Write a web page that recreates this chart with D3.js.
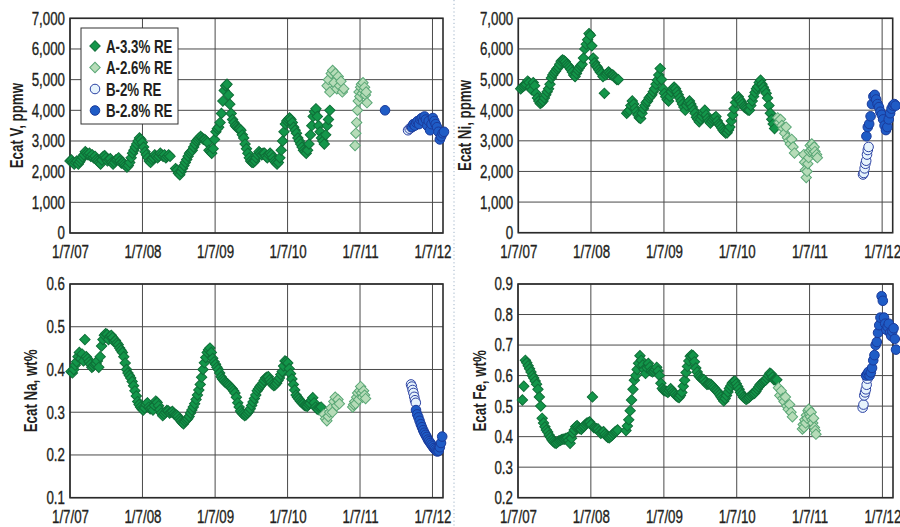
<!DOCTYPE html>
<html>
<head>
<meta charset="utf-8">
<script src="https://cdn.jsdelivr.net/npm/d3@7"></script>
<style>
  body { margin: 0; background: #fff; }
</style>
</head>
<body>
<svg id="chart" width="900" height="527"></svg>
<script>
// ---- data ----
// each series: list of [first sample date, days between samples, values]
const xStart = "2007-01-07";
const xEnd = "2012-02-29";
const xTickDates = ["2007-01-07", "2008-01-07", "2009-01-07", "2010-01-07", "2011-01-07", "2012-01-07"];

const ppmTicks = [0, 1000, 2000, 3000, 4000, 5000, 6000, 7000];
const naTicks = [0.1, 0.2, 0.3, 0.4, 0.5, 0.6];
const feTicks = [0.2, 0.3, 0.4, 0.5, 0.6, 0.7, 0.8, 0.9];

const seriesNames = ["A-3.3% RE", "A-2.6% RE", "B-2% RE", "B-2.8% RE"];

// Ecat V, ppmw
const vA33 = [["2007-01-07", 7, [
  2350, 2380, 2300, 2250, 2300, 2350, 2250, 2320, 2400, 2480,
  2550, 2650, 2600, 2550, 2600, 2500, 2550, 2450, 2500, 2400,
  2350, 2300, 2250, 2380, 2500, 2520, 2450, 2350, 2400, 2420,
  2300, 2250, 2300, 2380, 2400, 2450, 2350, 2280, 2300, 2250,
  2200, 2150, 2200, 2300, 2450, 2600, 2700, 2800, 2900, 3000,
  3100, 3050, 2950, 2800, 2650, 2550, 2450, 2350, 2300, 2400,
  2450, 2550, 2500, 2450, 2500, 2600, 2550, 2500, 2550, 2450,
  2500, 2550, 2500, null, null, null, 2100, 2050, 1950,
  1900, 2000, 2100, 2200, 2300, 2400, 2500, 2600, 2650, 2700,
  2800, 2900, 3000, 3050, 3100, 3150, 3100, 3050, 3050, 3000,
  2950, 2700, 2650, 2600, 2750, 3050, 3300, 3400, 3450, 3600,
  3900, 4300, 4650, 4800, 4850, 4500, 4200, 3900, 3700, 3600,
  3500, 3450, 3400, 3400, 3350, 3200, 3100, 2900, 2750, 2600,
  2450, 2350, 2300, 2300, 2350, 2450, 2550, 2650, 2600, 2550,
  2600, 2600, 2500, 2450, 2550, 2600, 2550, 2450, 2350, 2300,
  2250, 2300, 2450, 2700, 3000, 3300, 3550, 3650, 3700, 3750,
  3700, 3600, 3450, 3350, 3250, 3100, 3000, 2900, 2800, 2700,
  2650, 2600, 2700, 2900, 3200, 3500, 3800, 3950, 4050, 3800,
  3500, 3300, 3100, 3000, 2900, 3200, 3500, 3700, 4000]]];
const vA26 = [
  ["2010-07-25", 7, [4800, 5000, 4600, 5200, 5300, 4900, 5200, 4700, 5100, 4800, 4950, 4600, 4700]],
  ["2010-12-13", 4, [2850, 3250, 3600, 4000, 4300, 4600, 4450, 4750, 4850, 4550, 4900, 4650, 4750, 4500, 4600, 4250]]];
const vB2 = [["2011-09-06", 8, [3350, 3400, 3450]]];
const vB28 = [
  ["2011-05-13", 7, [4000]],
  ["2011-09-26", 7, [3450, 3550, 3500, 3600, 3650, 3550, 3700, 3750, 3650, 3800, 3700, 3500,
    3650, 3350, 3550, 3750, 3650, 3550, 3450, 3300, 3050, 3150, 3250, 3300]]];

// Ecat Ni, ppmw
const niA33 = [["2007-01-19", 7, [
  4700, 4750, 4780, 4820, 4850, 4950, 4900, 4750, 4660, 4900,
  4800, 4550, 4400, 4300, 4220, 4250, 4300, 4400, 4500, 4600,
  4700, 4850, 5050, 5150, 5220, 5280, 5350, 5400, 5500, 5600,
  5640, 5620, 5580, 5500, 5450, 5400, 5330, 5250, 5150, 5100,
  5200, 5300, 5380, 5450, 5500, 5700, 6000, 6150, 6300, 6500,
  6450, 6100, 5700, 5550, 5450, 5400, 5320, 5250, 5200, 5100,
  4550, 5150, 5200, 5250, 5200, 5150, 5150, 5100, 5050, 5000,
  5000, null, null, null, null, null, 3900, 3950, 4000, 4150,
  4300, 4200, 4060, 3950, 3850, 3750, 3730, 3900, 4050, 4150,
  4250, 4300, 4400, 4450, 4500, 4600, 4700, 4850, 4980, 5150,
  5360, 5000, 4700, 4550, 4440, 4350, 4300, 4450, 4600, 4700,
  4750, 4700, 4600, 4500, 4400, 4300, 4200, 4100, 4000, 4150,
  4250, 4300, 4200, 4100, 4000, 3900, 3770, 3700, 3620, 3700,
  3800, 3900, 4000, 3850, 3730, 3650, 3580, 3650, 3700, 3750,
  3790, 3650, 3550, 3500, 3430, 3350, 3300, 3250, 3260, 3350,
  3450, 3650, 3840, 4050, 4250, 4400, 4440, 4350, 4280, 4200,
  4120, 4080, 4050, 4000, 4000, 4150, 4300, 4450, 4580, 4700,
  4770, 4900, 4980, 4850, 4750, 4650, 4550, 4400, 4150, 3900,
  3700, 3550, 3400]]];
const niA26 = [
  ["2010-08-01", 7, [3750, 3600, 3700, 3500, 3400, 3250, 3450, 3100, 3000, 2900, 3050, 2800, 2600]],
  ["2010-12-10", 4, [2550, 2300, 2050, 1800, 2000, 2250, 2450, 2650, 2850, 2700, 2900, 2750, 2600, 2800, 2650, 2500, 2550, 2450]]];
const niB2 = [["2011-10-03", 4, [1900, 1950, 2100, 2250, 2350, 2550, 2700, 2800]]];
const niB28 = [["2011-10-20", 7, [3150, 3450, 3550, 3800, 4200, 4450, 4500, 4350, 4200, 4100, 3950,
  3850, 3700, 3500, 3350, 3450, 3700, 3900, 4050, 4150, 4200, 4150]]];

// Ecat Na, wt%
const naA33 = [["2007-01-12", 7, [
  .395, .392, .400, .410, .418, .430, .440, .425, .436, .420,
  .470, .430, .425, .418, .412, .405, .408, .412, .414, .420,
  .405, .430, .455, .470, .480, .484, .482, .470, .478, .480,
  .475, .465, .468, .462, .458, .450, .445, .440, .430, .415,
  .400, .392, .386, .380, .372, .362, .350, .338, .325, .318,
  .312, .308, .305, .310, .318, .322, .312, .308, .310, .305,
  .316, .326, .323, .315, .306, .298, .292, .296, .300, .304,
  .303, .298, .300, .302, .297, .294, .293, .290, .284, .280,
  .276, .273, .278, .282, .285, .290, .298, .305, .312, .320,
  .330, .340, .352, .365, .382, .400, .416, .428, .440, .446,
  .450, .440, .426, .418, .412, .405, .400, .392, .383, .378,
  .374, .370, .368, .365, .362, .358, .355, .350, .345, .335,
  .322, .312, .303, .298, .295, .292, .294, .298, .302, .308,
  .316, .324, .332, .340, .350, .355, .360, .364, .368, .374,
  .380, .382, .383, .376, .370, .365, .362, .364, .368, .374,
  .380, .388, .395, .408, .420, .418, .415, .402, .390, .378,
  .365, .352, .340, .335, .331, .326, .323, .320, .316, .315,
  .314, .318, .321, .328, .334, .322, .312, .308, .306, .310,
  .312]]];
const naA26 = [
  ["2010-07-10", 7, [.295, .285, .280, .290, .300, .310, .300, .325, .335, .315, .330, .320]],
  ["2010-12-01", 5, [.312, .318, .325, .320, .335, .345, .330, .350, .360, .345, .335, .350, .340, .332]]];
const naB2 = [["2011-09-21", 4, [.365, .360, .352, .345, .336, .328, .322]]];
const naB28 = [["2011-10-16", 6, [.305, .295, .288, .280, .272, .265, .258, .252, .247, .242, .236, .232,
  .228, .224, .220, .216, .213, .210, .208, .210, .218, .228, .243]]];

// Ecat Fe, wt%
const feA33 = [
  ["2007-01-29", 7, [.52, .565]],
  ["2007-02-13", 7, [
  .650, .642, .632, .622, .612, .600, .592, .582, .572, .555,
  .530, .500, .460, .445, .432, .422, .415, .405, .398, .390,
  .384, .380, .378, .382, .386, .388, .390, .392, .392, .394,
  .396, .388, .378, .395, .412, .422, .432, .436, .430, .426,
  .424, .430, .434, .440, .444, .446, .448, .440, .530, .430,
  .428, .426, .425, .418, .411, .414, .416, .408, .402, .398,
  .396, .400, .404, .410, .415, .418, .422, null, null, null,
  null, null, .420, .435, .455, .485, .520, .555, .585, .600,
  .620, .640, .665, .650, .635, .620, .607, .625, .640, .628,
  .615, .612, .615, .620, .627, .615, .600, .575, .558, .552,
  .550, .548, .545, .550, .557, .550, .544, .540, .534, .530,
  .528, .535, .545, .565, .585, .610, .630, .648, .663, .668,
  .665, .645, .625, .612, .600, .595, .590, .588, .586, .578,
  .571, .572, .573, .570, .565, .560, .554, .550, .545, .538,
  .531, .524, .517, .525, .535, .546, .558, .566, .575, .580,
  .582, .573, .564, .555, .545, .538, .530, .526, .522, .525,
  .528, .533, .538, .540, .542, .548, .556, .563, .570, .574,
  .578, .582, .585, .592, .600, .608, .605, .595, .586, .586,
  .586]]];
const feA26 = [
  ["2010-08-04", 7, [.560, .535, .550, .525, .515, .530, .500, .490, .505, .480, .465]],
  ["2010-12-02", 4, [.425, .440, .430, .455, .445, .470, .460, .485, .490, .475, .465, .480, .455, .445, .460, .430, .420, .408]]];
const feB2 = [["2011-09-30", 4, [.495, .505, .535, .545, .555, .570, .590]]];
const feB28 = [["2011-10-17", 6, [.600, .605, .612, .600, .610, .625, .650, .667, .700, .710, .740, .765, .790,
  .860, .845, .790, .770, .750, .760, .770, .740, .730, .745, .755, .720, .685]]];

// ---- layout / style ----
const font = "'Liberation Sans', Arial, sans-serif";
const ink = "#231f20";
const squeeze = "scale(0.72,1)";

const styles = [
  { shape: "diamond", fill: "#13964a", stroke: "#0f6f38" },
  { shape: "diamond", fill: "#b6dcb8", stroke: "#5aa776" },
  { shape: "circle", fill: "#e6f3fc", stroke: "#2c42a3" },
  { shape: "circle", fill: "#1f5cc6", stroke: "#1a3a9a" },
];

const panels = [
  { title: "Ecat V, ppmw", box: [70, 18.3, 443, 233], titleX: 17, yDomain: [0, 7000], yTicks: ppmTicks,
    yFormat: d3.format(","), series: [vA33, vA26, vB2, vB28], legend: true },
  { title: "Ecat Ni, ppmw", box: [518.3, 18.3, 892.7, 232.7], titleX: 465, yDomain: [0, 7000], yTicks: ppmTicks,
    yFormat: d3.format(","), series: [niA33, niA26, niB2, niB28] },
  { title: "Ecat Na, wt%", box: [70, 284, 443, 497.7], titleX: 31, yDomain: [0.1, 0.6], yTicks: naTicks,
    yFormat: d3.format(".1f"), series: [naA33, naA26, naB2, naB28] },
  { title: "Ecat Fe, wt%", box: [518, 284, 893, 497.7], titleX: 480, yDomain: [0.2, 0.9], yTicks: feTicks,
    yFormat: d3.format(".1f"), series: [feA33, feA26, feB2, feB28] },
];

const parseDate = d3.timeParse("%Y-%m-%d");

function toPoints(segments) {
  const pts = [];
  segments.forEach(([start, step, values]) => {
    const t0 = parseDate(start);
    values.forEach((v, i) => {
      if (v !== null) pts.push({ date: d3.timeDay.offset(t0, i * step), value: v });
    });
  });
  return pts;
}

const diamond = d3.symbol(d3.symbolSquare, 54)();
const circle = d3.symbol(d3.symbolCircle, 72)();

function drawMarker(sel, style) {
  sel.attr("d", style.shape === "diamond" ? diamond : circle)
    .attr("fill", style.fill)
    .attr("stroke", style.stroke)
    .attr("stroke-width", 1);
}

// tick labels: medium weight look
function styleTicks(axis) {
  axis.attr("font-size", 18.5).attr("font-family", font);
  axis.selectAll("text")
    .attr("fill", ink)
    .attr("stroke", ink).attr("stroke-width", 0.35)
    .attr("transform", squeeze);
}

const svg = d3.select("#chart");
svg.append("rect").attr("width", 900).attr("height", 527).attr("fill", "#fff");

// dotted divider between the columns
svg.append("line")
  .attr("x1", 454).attr("x2", 454).attr("y1", 0).attr("y2", 527)
  .attr("stroke", "#9fb3c8").attr("stroke-width", 1).attr("stroke-dasharray", "1.2,2.6");

panels.forEach((p) => {
  const [x0, y0, x1, y1] = p.box;
  const x = d3.scaleTime().domain([parseDate(xStart), parseDate(xEnd)]).range([x0, x1]);
  const y = d3.scaleLinear().domain(p.yDomain).range([y1, y0]);
  const xTicks = xTickDates.map(parseDate);
  const g = svg.append("g");

  // grid
  g.append("g").selectAll("line").data(p.yTicks).join("line")
    .attr("x1", x0).attr("x2", x1)
    .attr("y1", (d) => y(d)).attr("y2", (d) => y(d))
    .attr("stroke", "#4a4a4a").attr("stroke-width", 1);
  g.append("g").selectAll("line").data(xTicks).join("line")
    .attr("x1", (d) => x(d)).attr("x2", (d) => x(d))
    .attr("y1", y0).attr("y2", y1)
    .attr("stroke", "#4a4a4a").attr("stroke-width", 1);
  g.append("rect")
    .attr("x", x0).attr("y", y0).attr("width", x1 - x0).attr("height", y1 - y0)
    .attr("fill", "none").attr("stroke", "#2a2a2a").attr("stroke-width", 1.6);

  // axes
  const yAxis = g.append("g").attr("transform", `translate(${x0},0)`)
    .call(d3.axisLeft(y).tickValues(p.yTicks).tickFormat(p.yFormat).tickSize(0).tickPadding(7));
  yAxis.select(".domain").remove();
  styleTicks(yAxis);

  const xAxis = g.append("g").attr("transform", `translate(0,${y1})`)
    .call(d3.axisBottom(x).tickValues(xTicks).tickFormat(d3.timeFormat("%-m/%-d/%y")).tickSize(0).tickPadding(12));
  xAxis.select(".domain").remove();
  styleTicks(xAxis);

  // axis title
  g.append("text")
    .attr("transform", `translate(${p.titleX},${(y0 + y1) / 2}) rotate(-90) ${squeeze}`)
    .attr("text-anchor", "middle").attr("dy", "0.35em")
    .attr("font-family", font).attr("font-size", 18.5).attr("font-weight", "bold")
    .attr("fill", ink)
    .text(p.title);

  // points
  p.series.forEach((segments, k) => {
    const style = styles[k];
    g.append("g").selectAll("path").data(toPoints(segments)).join("path")
      .attr("transform", (d) => `translate(${x(d.date)},${y(d.value)})` + (style.shape === "diamond" ? " rotate(45)" : ""))
      .call(drawMarker, style);
  });

  if (p.legend) {
    const lg = g.append("g");
    lg.append("rect")
      .attr("x", 81).attr("y", 28).attr("width", 97).attr("height", 96)
      .attr("fill", "#fff").attr("stroke", "#333").attr("stroke-width", 1);
    const rows = lg.selectAll("g.row").data(seriesNames).join("g")
      .attr("class", "row")
      .attr("transform", (d, i) => `translate(95,${46 + i * 21.5})`);
    rows.append("path")
      .attr("transform", (d, i) => (styles[i].shape === "diamond" ? "rotate(45)" : null))
      .each(function (d, i) { d3.select(this).call(drawMarker, styles[i]); });
    rows.append("text")
      .attr("x", 11).attr("dy", "0.36em")
      .attr("transform", squeeze.replace("scale", "translate(3,0) scale"))
      .attr("font-family", font).attr("font-size", 18.5).attr("font-weight", "bold")
      .attr("fill", ink)
      .text((d) => d);
  }
});
</script>
</body>
</html>
